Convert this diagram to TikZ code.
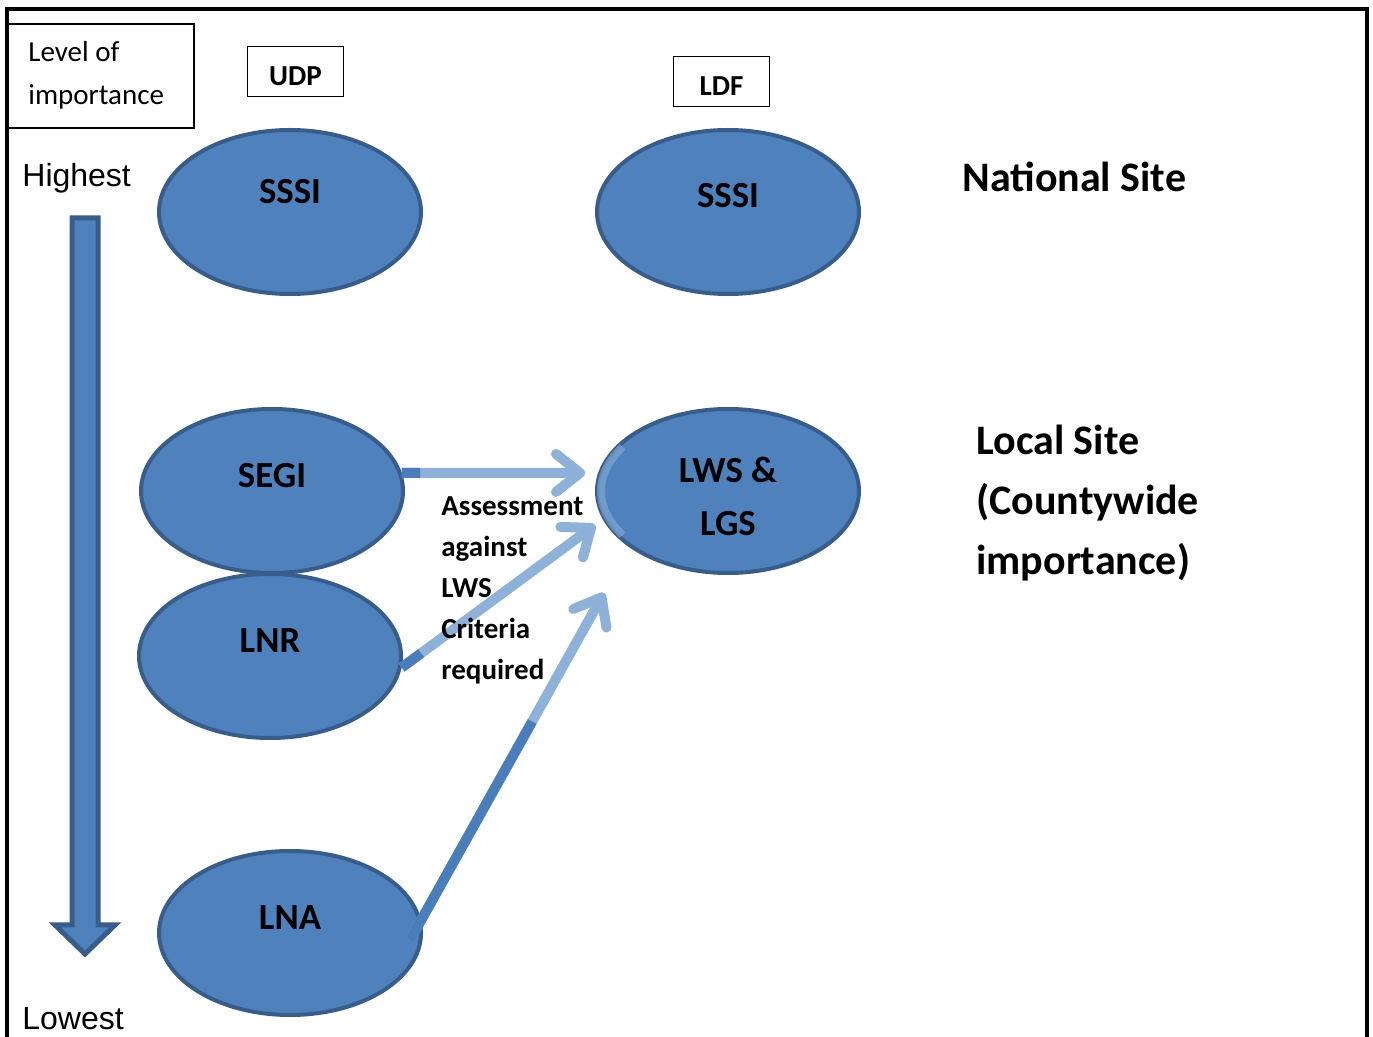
\documentclass[tikz,border=0pt]{standalone}
\usepackage{fontspec}
\setmainfont{Carlito}
\newfontfamily\arialfont{Liberation Sans}
\usepackage{tikz}
\usetikzlibrary{shapes.geometric,arrows.meta,calc}

\definecolor{sitefill}{RGB}{79,129,189}
\definecolor{siteline}{RGB}{56,93,138}
\definecolor{linklight}{RGB}{141,177,216}
\definecolor{linkdark}{RGB}{74,126,187}

\tikzset{
  site/.style={ellipse,fill=sitefill,draw=siteline,line width=2pt,
    minimum width=131pt,minimum height=82pt,inner sep=0pt},
  sitetxt/.style={font=\fontsize{18.4}{26.5}\selectfont\bfseries,align=center},
  tagbox/.style={draw,line width=0.8pt,minimum width=48pt,minimum height=25pt,
    text height=14pt,font=\fontsize{14.5}{17}\selectfont\bfseries},
  plain/.style={anchor=west,inner sep=0pt,align=left},
  link/.style={linklight,line width=5pt,
    -{Straight Barb[length=12pt,width=19pt,round]}},
  linkpart/.style={linkdark,line width=5pt},
}

\begin{document}
\begin{tikzpicture}[x=0.5pt,y=-0.5pt]
\useasboundingbox (0,0) rectangle (1373,1037);

% frame
\draw [line width=1.6pt] (7,1045) -- (7,9) -- (1367,9) -- (1367,1045);

\node[draw,line width=0.8pt,minimum width=93pt,minimum height=52pt] (levelbox) at (101,76) {};
\node[plain,font=\fontsize{14.5}{21.5}\selectfont] (level) at (28,75) {Level of\\importance};
\node[tagbox] (udp) at (295.5,71.5) {UDP};
\node[tagbox] (ldf) at (721.5,81.5) {LDF};

% scale arrow
\node[plain,font=\arialfont\fontsize{16}{19}\selectfont] (highest) at (22,178) {Highest};
\node[plain,font=\arialfont\fontsize{16}{19}\selectfont] (lowest) at (22,1019) {Lowest};
\draw [fill=sitefill,draw=siteline,line width=2.5pt,line join=miter]
  (72,218) -- (98,218) -- (98,925) -- (115,925) -- (85,954) -- (55,925) -- (72,925) -- cycle;

\node[site] (sssiU) at (290,212) {};
\node[site] (sssiL) at (728,212) {};
\node[site] (segi) at (272,491) {};
\node[site] (lnr) at (270,656) {};
\node[site] (lna) at (290,933) {};
\node[site] (lws) at (728,491) {};

\node[sitetxt] at (290,192) {SSSI};
\node[sitetxt] at (728,196) {SSSI};
\node[sitetxt] at (272,476) {SEGI};
\node[sitetxt] at (270,641) {LNR};
\node[sitetxt] at (290,918) {LNA};
\node[sitetxt] at (728,496) {LWS \&\\LGS};

\coordinate (tipA) at (585,473);
\coordinate (tipB) at (595,525);
\coordinate (tipC) at (604,593);
\coordinate (lnaout) at ($(lna.-5)+(-12,-4)$);

\draw [link] (segi.8) -- (tipA);
\draw [link] (lnr.-5) -- (tipB);
\draw [link] (lnaout) -- (tipC);
\draw [linkpart] (segi.8) -- ($(segi.8)!0.1!(tipA)$);
\draw [linkpart] (lnr.-5) -- ($(lnr.-5)!0.1!(tipB)$);
\draw [linkpart] (lnaout) -- ($(lnaout)!0.63!(tipC)$);

% pale rim where the tips meet LWS
\draw [linklight,opacity=0.55,line width=4pt] (lws.center) ++(146:127 and 79) arc (146:214:127 and 79);

\node[plain,font=\fontsize{14.5}{20.5}\selectfont\bfseries] (assess) at (441,590)
  {Assessment\\against\\LWS\\Criteria\\required};

\node[plain,font=\fontsize{21}{25}\selectfont\bfseries] (national) at (962,177) {National Site};
\node[plain,font=\fontsize{21}{30}\selectfont\bfseries] (local) at (976,503)
  {Local Site\\(Countywide\\importance)};
\end{tikzpicture}
\end{document}
